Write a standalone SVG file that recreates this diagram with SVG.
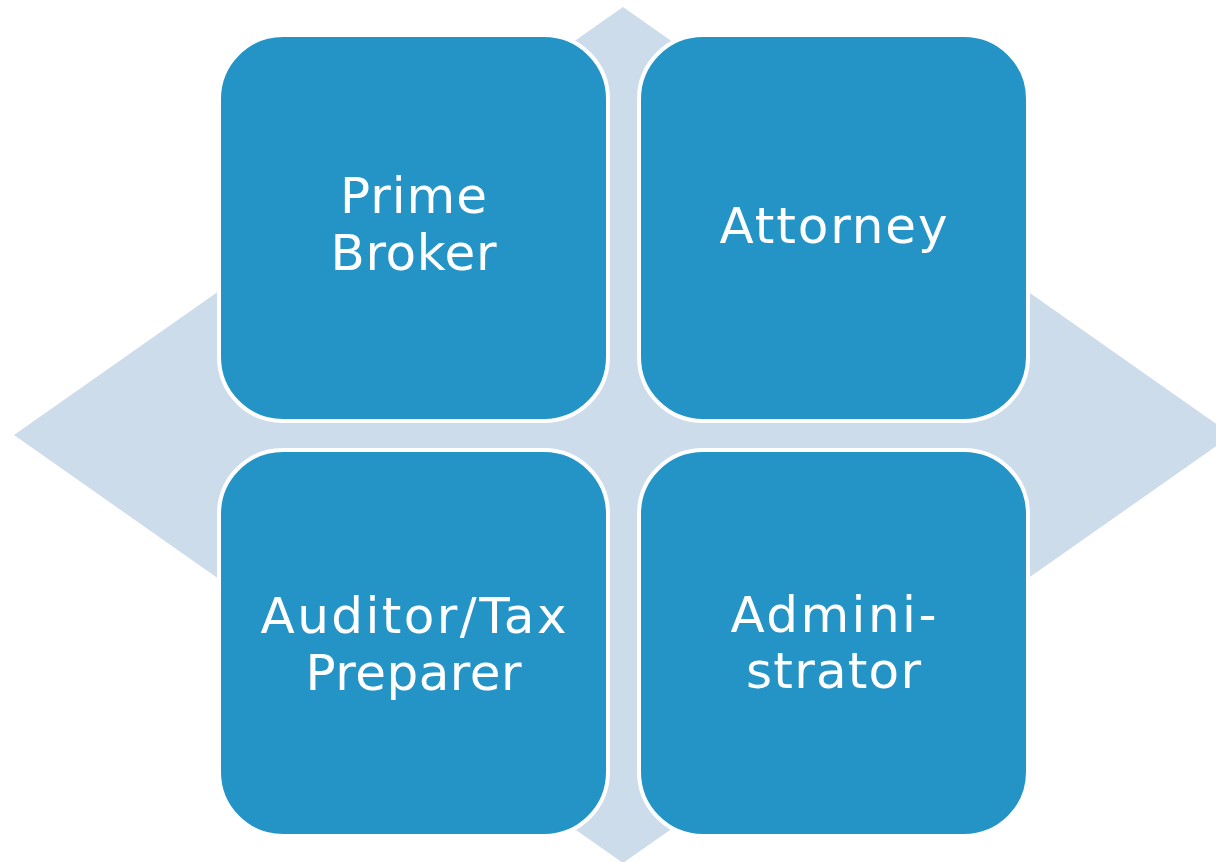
<svg xmlns="http://www.w3.org/2000/svg" width="1216" height="862" viewBox="0 0 1216 862">
<style>
.box{fill:#2494c7;stroke:#ffffff;stroke-width:4}
.lbl{fill:#ffffff;font-family:"DejaVu Sans","Liberation Sans",sans-serif;font-size:50px;text-anchor:middle}
</style>
<rect width="1216" height="862" fill="#ffffff"/>
<g id="background">
<polygon points="623,7 1232,435 623,863 14,435" fill="#cddcea"/>
</g>
<g id="connectors"></g>
<g id="node-prime-broker">
<rect class="box" x="219" y="35" width="389" height="386" rx="64" ry="64"/>
<text class="lbl" x="413.5" y="213" textLength="147" lengthAdjust="spacing">Prime</text>
<text class="lbl" x="413.5" y="270" textLength="166" lengthAdjust="spacing">Broker</text>
</g>
<g id="node-attorney">
<rect class="box" x="639" y="35" width="389" height="386" rx="64" ry="64"/>
<text class="lbl" x="833.5" y="243" textLength="228" lengthAdjust="spacing">Attorney</text>
</g>
<g id="node-auditor">
<rect class="box" x="219" y="450" width="389" height="386" rx="64" ry="64"/>
<text class="lbl" x="413.5" y="633" textLength="306" lengthAdjust="spacing">Auditor/Tax</text>
<text class="lbl" x="413.5" y="690" textLength="216" lengthAdjust="spacing">Preparer</text>
</g>
<g id="node-administrator">
<rect class="box" x="639" y="450" width="389" height="386" rx="64" ry="64"/>
<text class="lbl" x="833.5" y="632" textLength="206" lengthAdjust="spacing">Admini-</text>
<text class="lbl" x="833.5" y="688" textLength="175" lengthAdjust="spacing">strator</text>
</g>
</svg>
